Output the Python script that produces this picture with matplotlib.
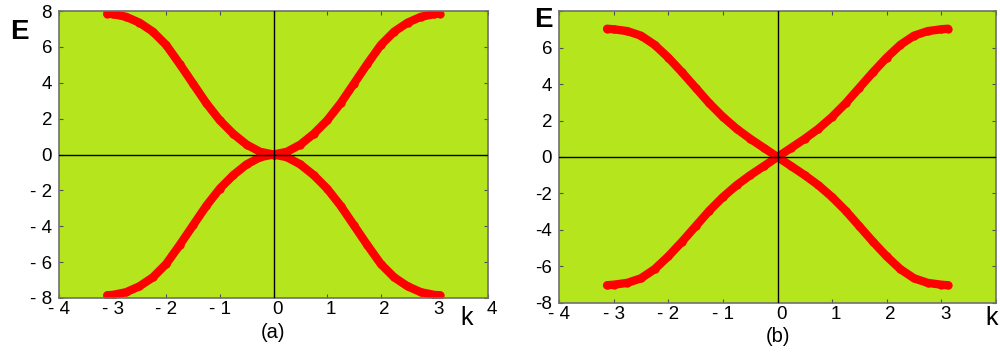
import matplotlib.pyplot as plt
import numpy as np

plt.rcParams['font.family'] = ['Liberation Sans', 'DejaVu Sans']

# upper band, k >= 0 (both bands are mirror symmetric in k and in E)
k_a = [0.0, 0.25, 0.5, 0.75, 1.0, 1.25, 1.5, 1.75, 2.0, 2.25, 2.5, 2.75, 3.0, 3.1]
E_a = [0.0, 0.15, 0.55, 1.15, 1.9, 2.85, 3.95, 5.05, 6.1, 6.85, 7.35, 7.68, 7.83, 7.85]

k_b = [0.0, 0.25, 0.5, 0.75, 1.0, 1.25, 1.5, 1.75, 2.0, 2.25, 2.5, 2.75, 3.0, 3.12]
E_b = [0.0, 0.5, 1.0, 1.55, 2.2, 2.95, 3.8, 4.65, 5.45, 6.15, 6.65, 6.9, 7.0, 7.03]

x_ticks = [-4, -3, -2, -1, 0, 1, 2, 3, 4]
y_ticks = [-8, -6, -4, -2, 0, 2, 4, 6, 8]

BG = '#b5e61d'
RED = '#ff0000'
TICK_FS = 13.5


def full_band(k, E):
    k = np.asarray(k)
    E = np.asarray(E)
    kk = np.concatenate([-k[::-1], k[1:]])
    ee = np.concatenate([E[::-1], E[1:]])
    return kk, ee


def tick_text(v, spaced):
    if v < 0:
        return f"- {abs(v)}" if spaced else f"-{abs(v)}"
    return str(v)


def setup_panel(ax, k, E, y_spaced, y_skip, x_skip, xlab_off):
    ax.set_facecolor(BG)
    ax.set_xlim(-4, 4)
    ax.set_ylim(-8, 8)

    kk, ee = full_band(k, E)
    for sign in (1, -1):
        ax.plot(kk, sign * ee, color=RED, lw=6, marker='o', ms=6, mew=0,
                solid_capstyle='round', zorder=2)

    ax.axhline(0, color='black', lw=1, zorder=3)
    ax.axvline(0, color='black', lw=1, zorder=3)

    for s in ax.spines.values():
        s.set_color('#707070')
        s.set_linewidth(1.2)

    ax.set_xticks(x_ticks)
    ax.set_yticks(y_ticks)
    ax.set_yticklabels(['' if v in y_skip else tick_text(v, y_spaced) for v in y_ticks])
    ax.tick_params(direction='in', length=3, width=0.8, color='#505050',
                   top=True, right=True, labelsize=TICK_FS, pad=5)
    ax.tick_params(axis='x', labelbottom=False)

    # x tick labels, digits sit a little right of their tick
    for v in x_ticks:
        if v in x_skip:
            continue
        dx = 0 if v < 0 else 4
        ax.annotate(tick_text(v, True), xy=(v, 0), xycoords=('data', 'axes fraction'),
                    xytext=(dx * 0.72, -xlab_off * 0.72), textcoords='offset points',
                    ha='center', va='center', fontsize=TICK_FS)


fig = plt.figure(figsize=(10, 3.56), dpi=100)
ax_a = fig.add_axes([0.059, 0.163, 0.429, 0.806])
ax_b = fig.add_axes([0.559, 0.149, 0.437, 0.820])

setup_panel(ax_a, k_a, E_a, y_spaced=True, y_skip=[], x_skip=[], xlab_off=12)
setup_panel(ax_b, k_b, E_b, y_spaced=False, y_skip=[8], x_skip=[4], xlab_off=12)

# axis names and panel tags
fig.text(0.019, 1 - 32 / 356, 'E', fontsize=20, fontweight='bold', ha='center', va='center')
fig.text(0.543, 1 - 20 / 356, 'E', fontsize=20, fontweight='bold', ha='center', va='center')
fig.text(0.467, 1 - 318 / 356, 'k', fontsize=18, ha='center', va='center')
fig.text(0.992, 1 - 318 / 356, 'k', fontsize=18, ha='center', va='center')
fig.text(0.273, 1 - 333 / 356, '(a)', fontsize=14.5, ha='center', va='center')
fig.text(0.778, 1 - 337 / 356, '(b)', fontsize=14.5, ha='center', va='center')

fig.savefig('out.png', dpi=100, facecolor='white')
